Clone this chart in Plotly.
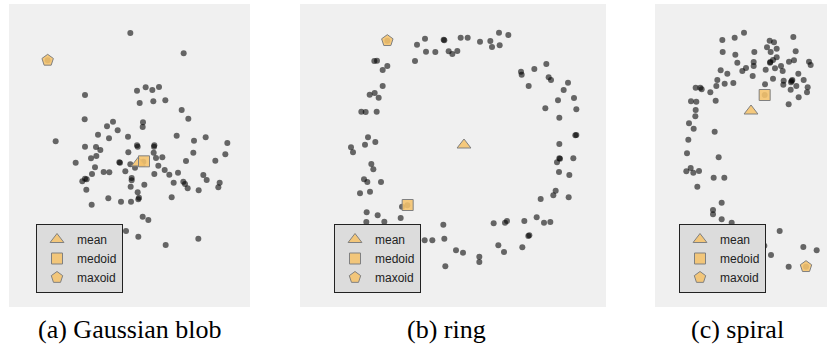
import plotly.graph_objects as go

# ---------------- data ----------------
# Panel (a) Gaussian blob
blob_x = [391, 551, 255, 411, 437, 457, 477, 419, 460, 496, 545, 565, 254, 339, 321, 353, 429, 428,
          167, 294, 327, 384, 530, 582, 617, 682, 255, 288, 301, 411, 413, 463, 462, 385, 461, 580,
          676, 273, 289, 468, 487, 227, 358, 360, 391, 558, 646, 285, 311, 328, 376, 475, 494, 463,
          508, 534, 610, 255, 247, 260, 276, 395, 395, 620, 550, 555, 521, 659, 655, 259, 433, 392,
          563, 596, 413, 325, 363, 393, 415, 417, 515, 275, 428, 445, 175, 217, 343, 378, 415, 497,
          595, 349, 405, 430, 143]
blob_y = [99, 160, 285, 272, 262, 270, 261, 309, 304, 301, 330, 356, 358, 365, 379, 391, 367, 381,
          424, 404, 415, 410, 407, 422, 412, 429, 440, 441, 450, 436, 440, 436, 440, 457, 458, 458,
          463, 475, 468, 474, 472, 488, 487, 488, 493, 483, 482, 502, 516, 517, 514, 497, 510, 522,
          524, 518, 525, 536, 544, 538, 522, 534, 541, 540, 545, 552, 548, 548, 562, 569, 554, 560,
          565, 571, 577, 595, 605, 605, 598, 593, 592, 614, 650, 660, 688, 694, 689, 693, 710, 735,
          716, 768, 503, 485, 181]
blob_mean = (415, 489)
blob_medoid = (432, 484)
blob_maxoid = (143, 181)

# Panel (b) ring
ring_x = [627, 655, 405, 461, 463, 512, 533, 570, 601, 606, 629, 381, 408, 436, 476, 487, 502, 375,
          253, 261, 278, 292, 278, 239, 254, 266, 214, 227, 260, 234, 225, 256, 183, 189, 244, 250,
          222, 232, 273, 210, 240, 336, 352, 230, 263, 229, 283, 332, 318, 363, 404, 427, 463, 460,
          498, 519, 568, 568, 466, 625, 642, 697, 715, 718, 611, 645, 651, 703, 740, 762, 781, 752,
          790, 797, 836, 807, 838, 801, 808, 810, 850, 808, 856, 859, 766, 808, 859, 852, 804, 821,
          834, 693, 695, 716, 733, 769, 776, 783, 292]
ring_y = [98, 105, 116, 119, 121, 113, 113, 125, 123, 141, 136, 134, 155, 156, 154, 162, 153, 183,
          183, 182, 210, 198, 258, 284, 279, 293, 335, 336, 335, 412, 434, 426, 442, 457, 492, 508,
          538, 546, 546, 580, 575, 620, 616, 637, 646, 666, 665, 654, 695, 700, 721, 721, 716, 674,
          751, 758, 770, 786, 799, 736, 756, 742, 708, 706, 670, 668, 663, 663, 652, 668, 666, 597,
          586, 572, 592, 516, 525, 487, 475, 476, 475, 432, 406, 405, 325, 353, 328, 294, 301, 270,
          248, 215, 224, 258, 207, 192, 232, 240, 122]
ring_mean = (522, 435)
ring_medoid = (353, 615)
ring_maxoid = (292, 122)

# Panel (c) spiral
spiral_x = [372, 344, 307, 520, 449, 462, 308, 346, 403, 441, 452, 470, 527, 352, 378, 401, 401, 367,
            437, 451, 459, 465, 470, 483, 488, 507, 522, 567, 572, 302, 322, 292, 314, 340, 398, 435,
            459, 491, 515, 513, 535, 551, 529, 563, 561, 512, 536, 506, 490, 227, 241, 245, 271, 289,
            287, 213, 229, 227, 226, 207, 221, 205, 284, 201, 296, 199, 212, 220, 237, 232, 281, 313,
            305, 279, 279, 305, 335, 340, 408, 479, 429, 433, 453, 550, 590, 506, 434, 558, 450, 517]
spiral_y = [98, 113, 120, 111, 122, 127, 156, 164, 156, 142, 156, 146, 154, 188, 204, 186, 198, 213,
            209, 186, 180, 205, 172, 198, 213, 185, 181, 185, 195, 211, 221, 240, 251, 249, 228, 253,
            236, 242, 243, 247, 221, 240, 258, 262, 277, 269, 292, 313, 254, 263, 263, 268, 277, 258,
            302, 304, 305, 330, 349, 370, 386, 419, 395, 460, 472, 514, 504, 518, 513, 560, 533, 533,
            608, 630, 643, 658, 668, 690, 693, 693, 735, 737, 765, 741, 751, 800, 285, 800, 188, 240]
spiral_mean = (393, 333)
spiral_medoid = (434, 285)
spiral_maxoid = (558, 800)

captions = ["(a) Gaussian blob", "(b) ring", "(c) spiral"]
legend_labels = ["mean", "medoid", "maxoid"]

# ---------------- layout geometry ----------------
W, H = 827, 345
panels = [
    dict(x=blob_x, y=blob_y, c=[blob_mean, blob_medoid, blob_maxoid],
         px=(9, 250), xr=[27, 750], leg=(36, 224), cap=129.5),
    dict(x=ring_x, y=ring_y, c=[ring_mean, ring_medoid, ring_maxoid],
         px=(300, 606), xr=[30, 948], leg=(334, 224), cap=446),
    dict(x=spiral_x, y=spiral_y, c=[spiral_mean, spiral_medoid, spiral_maxoid],
         px=(655, 827), xr=[105, 621], leg=(679, 224), cap=737),
]
ydom = [38 / H, 341 / H]
yr = [921, 12]

symbols = [("triangle-up", 12), ("square", 11), ("pentagon", 12)]
orange = "rgba(245,195,108,0.88)"

fig = go.Figure()
layout = dict(width=W, height=H, margin=dict(l=0, r=0, t=0, b=0),
              paper_bgcolor="white", plot_bgcolor="#f0f0f0", annotations=[])

for i, p in enumerate(panels):
    sfx = "" if i == 0 else str(i + 1)
    xa, ya = "x" + sfx, "y" + sfx
    leg = "legend" + sfx
    fig.add_trace(go.Scatter(
        x=p["x"], y=p["y"], mode="markers", showlegend=False, hoverinfo="skip",
        marker=dict(size=6, color="rgba(0,0,0,0.58)", line=dict(width=0)),
        xaxis=xa, yaxis=ya))
    for (sym, sz), lab, c in zip(symbols, legend_labels, p["c"]):
        fig.add_trace(go.Scatter(
            x=[c[0]], y=[c[1]], mode="markers", name=lab, legend=leg,
            marker=dict(symbol=sym, size=sz, color=orange,
                        line=dict(color="#808080", width=1)),
            xaxis=xa, yaxis=ya))
    axcommon = dict(showgrid=False, zeroline=False, showticklabels=False,
                    ticks="", showline=False)
    layout["xaxis" + sfx] = dict(domain=[p["px"][0] / W, p["px"][1] / W],
                                 range=p["xr"], anchor=ya, **axcommon)
    layout["yaxis" + sfx] = dict(domain=ydom, range=yr, anchor=xa, **axcommon)
    layout[leg] = dict(x=p["leg"][0] / W, y=(H - p["leg"][1]) / H,
                       xanchor="left", yanchor="top",
                       bgcolor="#dcdcdc", bordercolor="#222222", borderwidth=1,
                       font=dict(family="Liberation Sans", size=12, color="#222222"),
                       tracegroupgap=0)
    layout["annotations"].append(dict(
        text=captions[i], x=p["cap"] / W, y=(H - 329) / H, xref="paper", yref="paper",
        xanchor="center", yanchor="middle", showarrow=False,
        font=dict(family="Liberation Serif", size=26, color="black")))

fig.update_layout(**layout)
fig.write_html("out.html", config={"displayModeBar": False},
               post_script="document.body.style.margin='0';document.body.style.padding='0';")
